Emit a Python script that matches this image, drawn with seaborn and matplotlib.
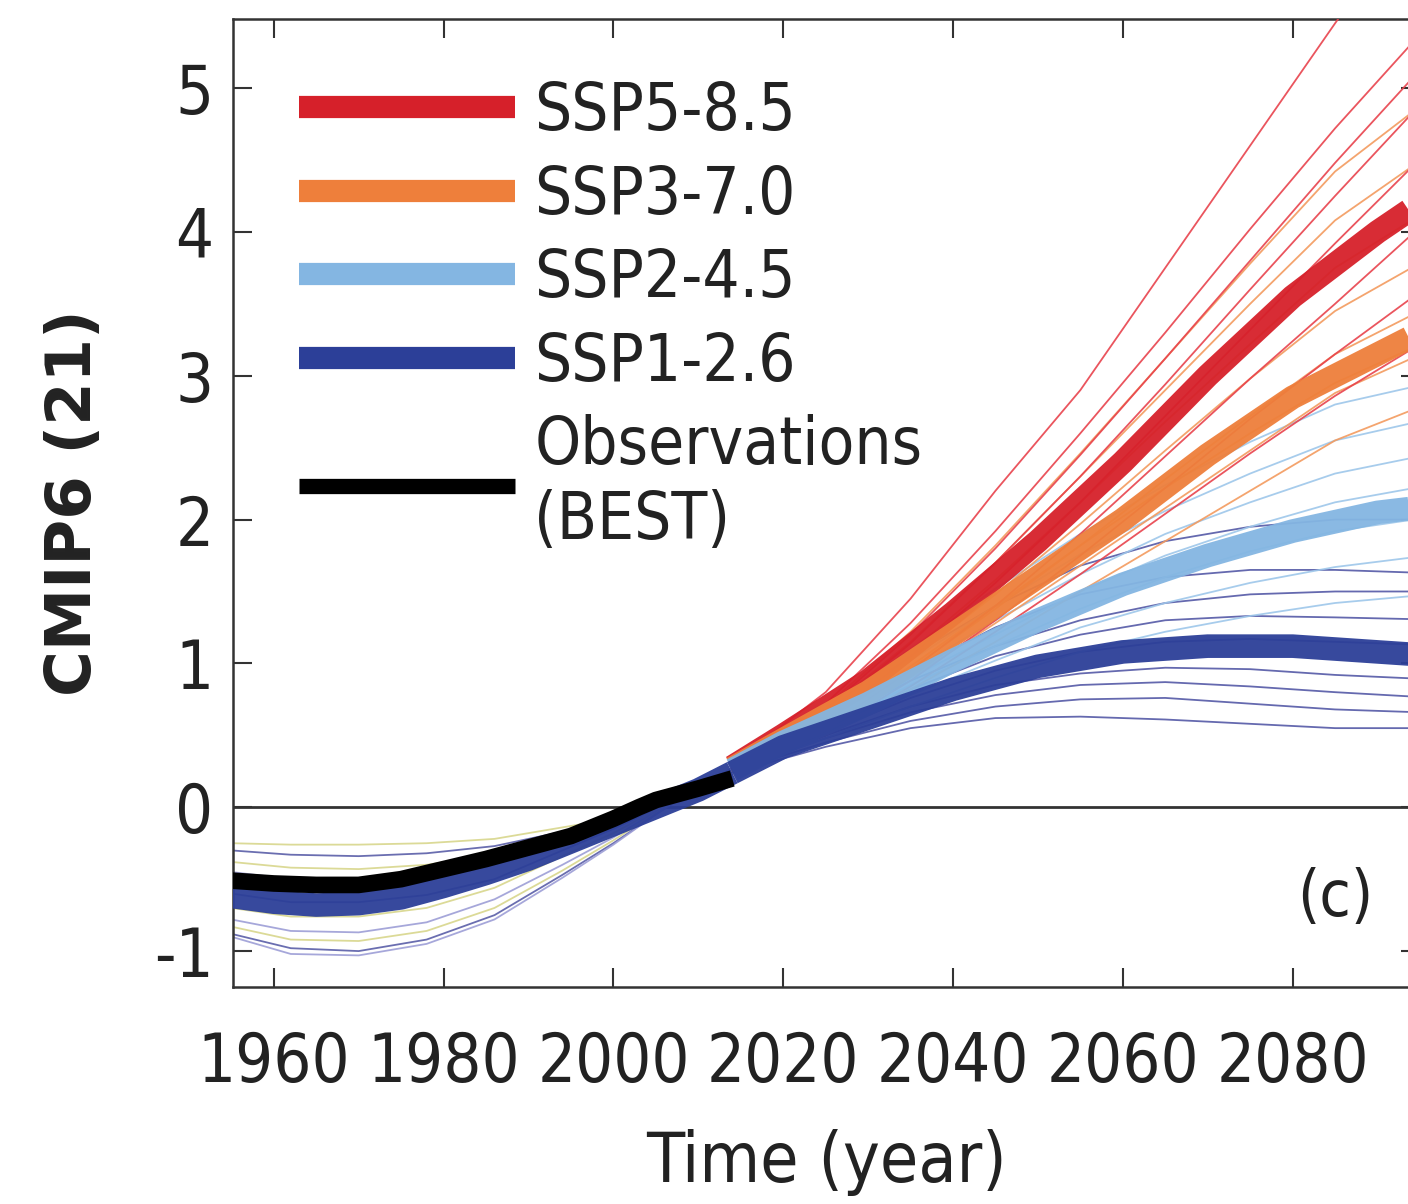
import numpy as np
import pandas as pd
import matplotlib
matplotlib.use("Agg")
import matplotlib.pyplot as plt
import seaborn as sns
from matplotlib.lines import Line2D

# ---------------- data ----------------
# observations (BEST)
obs_years = [1955, 1960, 1965, 1970, 1975, 1980, 1985, 1990, 1995, 2000, 2003, 2005, 2010, 2014]
obs_vals = [-0.51, -0.53, -0.54, -0.54, -0.50, -0.43, -0.36, -0.28, -0.20, -0.08, 0.00, 0.05, 0.13, 0.20]

# multi-model historical mean (drawn in the SSP1-2.6 colour)
hist_mean_years = [1955, 1960, 1965, 1970, 1975, 1980, 1985, 1990, 1995, 2000, 2005, 2010, 2014]
hist_mean_vals = [-0.62, -0.66, -0.68, -0.67, -0.63, -0.55, -0.46, -0.36, -0.24, -0.12, 0.00, 0.12, 0.24]

# individual historical members
hist_years = [1955, 1962, 1970, 1978, 1986, 1994, 2000, 2005, 2010, 2014]
hist_members = [
    [-0.25, -0.26, -0.26, -0.25, -0.22, -0.14, -0.08, 0.00, 0.10, 0.20],
    [-0.30, -0.33, -0.34, -0.32, -0.27, -0.17, -0.09, 0.00, 0.10, 0.19],
    [-0.38, -0.42, -0.43, -0.40, -0.33, -0.20, -0.10, 0.00, 0.11, 0.20],
    [-0.45, -0.50, -0.50, -0.46, -0.38, -0.23, -0.12, 0.00, 0.12, 0.22],
    [-0.60, -0.66, -0.66, -0.61, -0.50, -0.30, -0.15, -0.01, 0.12, 0.23],
    [-0.70, -0.76, -0.76, -0.70, -0.56, -0.34, -0.18, -0.02, 0.13, 0.24],
    [-0.78, -0.86, -0.87, -0.80, -0.64, -0.40, -0.21, -0.03, 0.13, 0.25],
    [-0.83, -0.92, -0.93, -0.86, -0.70, -0.44, -0.23, -0.04, 0.14, 0.26],
    [-0.88, -0.98, -1.00, -0.92, -0.75, -0.47, -0.25, -0.05, 0.14, 0.27],
    [-0.90, -1.02, -1.03, -0.95, -0.78, -0.49, -0.26, -0.05, 0.15, 0.27],
]
hist_colors = ["#d8d68c", "#5a5ea8", "#d8d68c", "#9d9ed6", "#5a5ea8",
               "#d8d68c", "#9d9ed6", "#d8d68c", "#5a5ea8", "#9d9ed6"]

# scenario means
mean_years = [2014, 2020, 2030, 2040, 2050, 2060, 2070, 2080, 2090, 2100]
ssp126_mean = [0.24, 0.42, 0.62, 0.82, 0.98, 1.08, 1.12, 1.12, 1.08, 1.04]
ssp245_mean = [0.26, 0.45, 0.72, 1.02, 1.30, 1.55, 1.75, 1.92, 2.05, 2.12]
ssp370_mean = [0.27, 0.47, 0.80, 1.20, 1.60, 2.00, 2.45, 2.85, 3.15, 3.45]
ssp585_mean = [0.28, 0.50, 0.88, 1.35, 1.85, 2.40, 3.00, 3.55, 4.00, 4.40]

# individual scenario members
proj_years = [2014, 2025, 2035, 2045, 2055, 2065, 2075, 2085, 2100]
ssp126_members = [
    [0.24, 0.42, 0.55, 0.62, 0.63, 0.61, 0.58, 0.55, 0.55],
    [0.25, 0.45, 0.60, 0.70, 0.75, 0.76, 0.72, 0.68, 0.65],
    [0.25, 0.48, 0.66, 0.78, 0.85, 0.87, 0.84, 0.80, 0.75],
    [0.26, 0.50, 0.70, 0.85, 0.93, 0.97, 0.96, 0.92, 0.88],
    [0.26, 0.52, 0.76, 0.95, 1.08, 1.15, 1.17, 1.15, 1.12],
    [0.27, 0.55, 0.82, 1.05, 1.20, 1.30, 1.33, 1.32, 1.30],
    [0.27, 0.58, 0.88, 1.12, 1.30, 1.42, 1.48, 1.50, 1.50],
    [0.28, 0.62, 0.95, 1.25, 1.48, 1.60, 1.65, 1.65, 1.62],
    [0.28, 0.66, 1.05, 1.40, 1.68, 1.85, 1.95, 2.00, 2.00],
]
ssp245_members = [
    [0.25, 0.48, 0.70, 0.90, 1.08, 1.22, 1.33, 1.42, 1.50],
    [0.26, 0.52, 0.78, 1.02, 1.25, 1.42, 1.56, 1.67, 1.78],
    [0.26, 0.55, 0.85, 1.12, 1.38, 1.60, 1.78, 1.92, 2.05],
    [0.27, 0.58, 0.90, 1.20, 1.50, 1.75, 1.95, 2.12, 2.28],
    [0.27, 0.60, 0.95, 1.30, 1.62, 1.90, 2.12, 2.32, 2.50],
    [0.28, 0.64, 1.02, 1.40, 1.76, 2.06, 2.32, 2.55, 2.75],
    [0.28, 0.68, 1.10, 1.52, 1.90, 2.24, 2.54, 2.80, 3.00],
]
ssp370_members = [
    [0.25, 0.50, 0.82, 1.15, 1.50, 1.85, 2.20, 2.55, 2.90],
    [0.27, 0.58, 0.98, 1.40, 1.82, 2.22, 2.60, 2.95, 3.35],
    [0.26, 0.54, 0.90, 1.28, 1.68, 2.08, 2.48, 2.88, 3.28],
    [0.26, 0.57, 0.96, 1.38, 1.82, 2.28, 2.72, 3.15, 3.60],
    [0.27, 0.60, 1.02, 1.48, 1.97, 2.48, 2.98, 3.45, 3.95],
    [0.27, 0.63, 1.08, 1.58, 2.12, 2.68, 3.22, 3.75, 4.30],
    [0.28, 0.67, 1.15, 1.70, 2.30, 2.90, 3.50, 4.08, 4.70],
    [0.28, 0.70, 1.22, 1.82, 2.46, 3.12, 3.78, 4.42, 5.10],
]
ssp585_members = [
    [0.27, 0.50, 0.84, 1.22, 1.62, 2.04, 2.46, 2.86, 3.40],
    [0.27, 0.52, 0.88, 1.30, 1.75, 2.22, 2.70, 3.15, 3.80],
    [0.28, 0.55, 0.95, 1.40, 1.90, 2.44, 2.98, 3.50, 4.30],
    [0.28, 0.60, 1.05, 1.56, 2.12, 2.72, 3.32, 3.92, 4.80],
    [0.29, 0.65, 1.14, 1.70, 2.30, 2.94, 3.60, 4.25, 5.20],
    [0.29, 0.68, 1.20, 1.80, 2.45, 3.12, 3.80, 4.48, 5.45],
    [0.30, 0.72, 1.28, 1.92, 2.60, 3.30, 4.02, 4.72, 5.70],
    [0.30, 0.80, 1.45, 2.20, 2.90, 3.75, 4.60, 5.45, 6.70],
]

scenarios = ["SSP5-8.5", "SSP3-7.0", "SSP2-4.5", "SSP1-2.6"]
thick_colors = {"SSP5-8.5": "#d6202a", "SSP3-7.0": "#ee7f3b",
                "SSP2-4.5": "#84b6e2", "SSP1-2.6": "#2c3f98"}
thin_colors = {"SSP5-8.5": "#e8424c", "SSP3-7.0": "#f39a5e",
               "SSP2-4.5": "#9ec7ea", "SSP1-2.6": "#5459a6"}
members = {"SSP5-8.5": ssp585_members, "SSP3-7.0": ssp370_members,
           "SSP2-4.5": ssp245_members, "SSP1-2.6": ssp126_members}
means = {"SSP5-8.5": ssp585_mean, "SSP3-7.0": ssp370_mean,
         "SSP2-4.5": ssp245_mean, "SSP1-2.6": ssp126_mean}

# ---------------- style ----------------
sns.set_style("ticks")
plt.rcParams["font.family"] = ["DejaVu Sans"]
plt.rcParams["font.stretch"] = "condensed"
plt.rcParams["axes.unicode_minus"] = False
plt.rcParams["axes.linewidth"] = 1.8
plt.rcParams["axes.edgecolor"] = "#333333"

fig = plt.figure(figsize=(14.08, 12.04), dpi=100)
ax = fig.add_axes([0.1655, 0.1802, 0.8430, 0.8040])

# zero line
ax.axhline(0, color="#333333", lw=2.0, zorder=1)

# ---------------- thin members ----------------
for vals, col in zip(hist_members, hist_colors):
    sns.lineplot(x=hist_years, y=vals, ax=ax, color=col, lw=1.3, alpha=0.9, zorder=2)

thin_order = ["SSP1-2.6", "SSP2-4.5", "SSP3-7.0", "SSP5-8.5"]
for sc in thin_order:
    for vals in members[sc]:
        sns.lineplot(x=proj_years, y=vals, ax=ax, color=thin_colors[sc],
                     lw=1.3, alpha=0.9, zorder=3)

# ---------------- scenario means ----------------
for sc in scenarios:
    sns.lineplot(x=mean_years, y=means[sc], ax=ax, color=thick_colors[sc],
                 lw=17, alpha=0.95, zorder=5, solid_capstyle="butt")
sns.lineplot(x=hist_mean_years, y=hist_mean_vals, ax=ax, color=thick_colors["SSP1-2.6"],
             lw=17, alpha=0.95, zorder=5, solid_capstyle="butt")

# observations
sns.lineplot(x=obs_years, y=obs_vals, ax=ax, color="black", lw=12, zorder=6,
             solid_capstyle="butt")

# ---------------- axes ----------------
ax.set_xlim(1955.2, 2095)
ax.set_ylim(-1.25, 5.48)
ax.set_xticks([1960, 1980, 2000, 2020, 2040, 2060, 2080])
ax.set_yticks([-1, 0, 1, 2, 3, 4, 5])
ax.tick_params(direction="in", length=14, width=1.5, colors="#333333",
               top=True, right=True, labelsize=48, labelcolor="#222222")
ax.tick_params(axis="x", pad=31)
ax.tick_params(axis="y", pad=14)

ax.set_xlabel("Time (year)", fontsize=50, color="#222222", labelpad=24)
ax.set_ylabel("CMIP6 (21)", fontsize=45, fontweight="bold", fontstretch="normal",
              color="#222222", labelpad=36)

ax.text(2085, -0.63, "(c)", fontsize=46, ha="center", va="center", color="#222222")

# ---------------- legend ----------------
handles = [Line2D([], [], color=thick_colors[sc], lw=16, solid_capstyle="butt")
           for sc in scenarios]
handles.append(Line2D([], [], color="black", lw=11, solid_capstyle="butt"))
labels = scenarios + ["Observations\n(BEST)"]
leg = ax.legend(handles, labels, loc="upper left", bbox_to_anchor=(0.056, 0.937),
                frameon=False, fontsize=47, handlelength=3.3, handletextpad=0.3,
                labelspacing=0.3, borderpad=0, borderaxespad=0)
for t in leg.get_texts():
    t.set_color("#222222")
    t.set_linespacing(1.22)

fig.savefig("out.png", dpi=100, facecolor="white")
